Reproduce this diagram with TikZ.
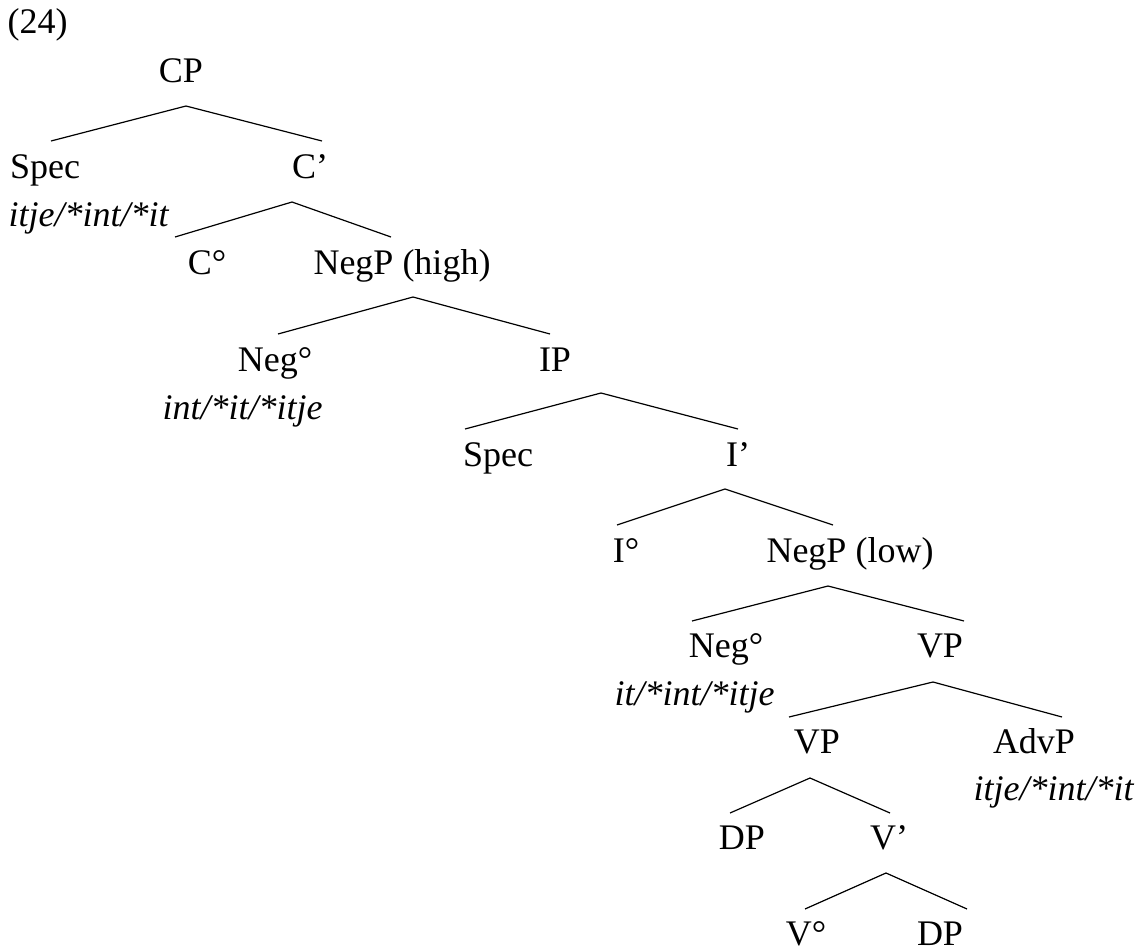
\documentclass[tikz,border=0pt]{standalone}
\usepackage{fontspec}
\setmainfont{Liberation Serif}
\usepackage{tikz}
\usetikzlibrary{calc}

\begin{document}
\begin{tikzpicture}[
        x = 0.5pt, y = -0.5pt,
        line width = 0.6pt,
        cat/.style = {anchor=base, inner sep=0pt, font=\fontsize{18}{21.6}\selectfont},
        lex/.style = {anchor=base west, inner sep=0pt, font=\fontsize{18}{21.6}\selectfont\itshape},
        ]
        \useasboundingbox (0,0) rectangle (1146,948);

        % Example number
        \node[anchor=base west, inner sep=0pt, font=\fontsize{18}{21.6}\selectfont] (num) at (7,33) {(24)};

        % Labels
        \node[cat] (CP) at (181,82) {CP};
        \node[cat] (SpecC) at (45,178) {Spec};
        \node[lex] (SpecCx) at (8,226) {itje/*int/*it};
        \node[cat] (Cbar) at (310,178) {C’};
        \node[cat] (C0) at (207,274) {C°};
        \node[cat] (NegPhi) at (402,274) {NegP (high)};
        \node[cat] (NegHi) at (275,371) {Neg°};
        \node[lex] (NegHix) at (162,419) {int/*it/*itje};
        \node[cat] (IP) at (555,371) {IP};
        \node[cat] (SpecI) at (498,466) {Spec};
        \node[cat] (Ibar) at (738,466) {I’};
        \node[cat] (I0) at (626,562) {I°};
        \node[cat] (NegPlo) at (850,562) {NegP (low)};
        \node[cat] (NegLo) at (726,657) {Neg°};
        \node[lex] (NegLox) at (614,705) {it/*int/*itje};
        \node[cat] (VPhi) at (940,657) {VP};
        \node[cat] (VPlo) at (817,753) {VP};
        \node[cat] (AdvP) at (1034,753) {AdvP};
        \node[lex] (AdvPx) at (973,800) {itje/*int/*it};
        \node[cat] (DPs) at (742,849) {DP};
        \node[cat] (Vbar) at (889,849) {V’};
        \node[cat] (V0) at (806,945) {V°};
        \node[cat] (DPo) at (940,945) {DP};

        % Branches
        \draw ($(SpecC.base)+(6,-37)$) -- ($(CP.base)+(5,24)$) -- ($(Cbar.base)+(12,-37)$);
        \draw ($(C0.base)+(-32,-37)$) -- ($(Cbar.base)+(-18,24)$) -- ($(NegPhi.base)+(-11,-37)$);
        \draw ($(NegHi.base)+(3,-37)$) -- ($(NegPhi.base)+(11,23)$) -- ($(IP.base)+(-5,-37)$);
        \draw ($(SpecI.base)+(-33,-37)$) -- ($(IP.base)+(46,22)$) -- ($(Ibar.base)+(0,-37)$);
        \draw ($(I0.base)+(-9,-37)$) -- ($(Ibar.base)+(-13,23)$) -- ($(NegPlo.base)+(-17,-37)$);
        \draw ($(NegLo.base)+(-34,-36)$) -- ($(NegPlo.base)+(-22,24)$) -- ($(VPhi.base)+(24,-36)$);
        \draw ($(VPlo.base)+(-28,-36)$) -- ($(VPhi.base)+(-7,25)$) -- ($(AdvP.base)+(28,-36)$);
        \draw ($(DPs.base)+(-12,-36)$) -- ($(VPlo.base)+(-7,25)$) -- ($(Vbar.base)+(1,-36)$);
        \draw ($(V0.base)+(-1,-36)$) -- ($(Vbar.base)+(-3,24)$) -- ($(DPo.base)+(27,-36)$);
\end{tikzpicture}
\end{document}
